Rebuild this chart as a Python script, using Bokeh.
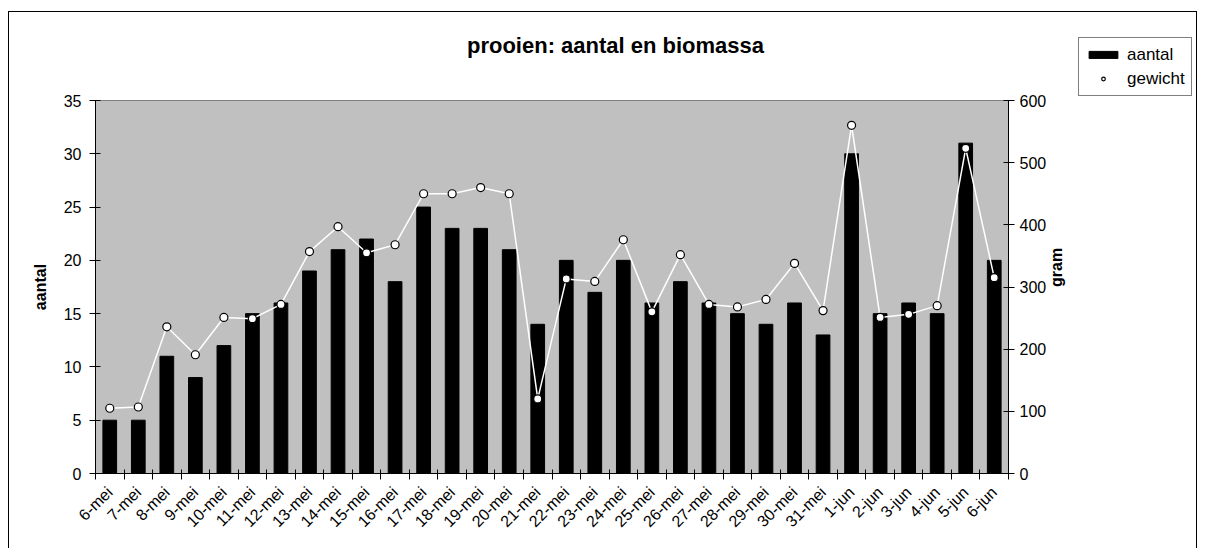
import math
from bokeh.plotting import figure
from bokeh.layouts import row, column
from bokeh.models import Range1d, LinearAxis, FixedTicker, Legend, LegendItem, Label
from bokeh.embed import file_html
from bokeh.resources import INLINE

dates = ["6-mei", "7-mei", "8-mei", "9-mei", "10-mei", "11-mei", "12-mei", "13-mei",
         "14-mei", "15-mei", "16-mei", "17-mei", "18-mei", "19-mei", "20-mei", "21-mei",
         "22-mei", "23-mei", "24-mei", "25-mei", "26-mei", "27-mei", "28-mei", "29-mei",
         "30-mei", "31-mei", "1-jun", "2-jun", "3-jun", "4-jun", "5-jun", "6-jun"]
aantal = [5, 5, 11, 9, 12, 15, 16, 19, 21, 22, 18, 25, 23, 23, 21, 14,
          20, 17, 20, 16, 18, 16, 15, 14, 16, 13, 30, 15, 16, 15, 31, 20]
gewicht = [105, 107, 236, 191, 251, 249, 272, 357, 397, 355, 368, 450, 450, 460, 450, 120,
           313, 309, 376, 260, 352, 272, 268, 280, 338, 262, 560, 251, 256, 270, 523, 315]
left_ticks = [0, 5, 10, 15, 20, 25, 30, 35]
right_ticks = [0, 100, 200, 300, 400, 500, 600]

FONT = "Liberation Sans"
idx = list(range(len(dates)))

MAIN_W = 1069
LEG_W = 118
TITLE_H = 76
MAIN_H = 460


def blank(w, h, xr, yr):
    f = figure(width=w, height=h, x_range=xr, y_range=yr,
               x_axis_type=None, y_axis_type=None,
               output_backend="svg", toolbar_location=None,
               min_border=0, min_border_left=0, min_border_right=0,
               min_border_top=0, min_border_bottom=0)
    f.grid.visible = False
    f.outline_line_color = None
    f.background_fill_color = "white"
    f.border_fill_color = "white"
    return f


# title strip (its frame is aligned with the chart's plot area)
tf = blank(MAIN_W, TITLE_H, Range1d(0, 1), Range1d(0, 1))
tf.add_layout(Label(x=520, y=43, x_units="screen", y_units="screen",
                    text="prooien: aantal en biomassa", text_align="center",
                    text_baseline="middle", text_font=FONT, text_font_size="22px",
                    text_font_style="bold", text_color="black"))

# main chart
p = figure(width=MAIN_W, height=MAIN_H,
           x_range=Range1d(-0.5, len(dates) - 0.5), y_range=Range1d(0, 35),
           output_backend="svg", toolbar_location=None,
           min_border_left=86, min_border_right=70, min_border_top=12, min_border_bottom=75)
p.extra_y_ranges = {"gram": Range1d(0, 600)}
p.background_fill_color = "#C0C0C0"
p.border_fill_color = "white"
p.outline_line_color = "#808080"
p.grid.visible = False

xa = p.xaxis[0]
xa.ticker = FixedTicker(ticks=idx, minor_ticks=[i - 0.5 for i in range(len(dates) + 1)])
xa.major_label_overrides = {i: d for i, d in enumerate(dates)}
xa.major_tick_in = 0
xa.major_tick_out = 0
xa.minor_tick_in = 4
xa.minor_tick_out = 6
xa.minor_tick_line_color = "black"
xa.axis_line_color = "black"
xa.major_label_orientation = math.pi / 4
xa.major_label_standoff = 10
xa.major_label_text_font = FONT
xa.major_label_text_font_size = "16px"
xa.major_label_text_color = "black"

ya = p.yaxis[0]
ya.ticker = FixedTicker(ticks=left_ticks)
ya.minor_tick_line_color = None
ya.major_tick_in = 5
ya.major_tick_out = 6
ya.major_tick_line_color = "black"
ya.axis_line_color = "black"
ya.major_label_standoff = 8
ya.major_label_text_font = FONT
ya.major_label_text_font_size = "16px"
ya.major_label_text_color = "black"
ya.axis_label = "aantal"
ya.axis_label_text_font = FONT
ya.axis_label_text_font_size = "16px"
ya.axis_label_text_font_style = "bold"
ya.axis_label_text_color = "black"
ya.axis_label_standoff = 12

ra = LinearAxis(y_range_name="gram", ticker=FixedTicker(ticks=right_ticks))
ra.minor_tick_line_color = None
ra.major_tick_in = 5
ra.major_tick_out = 6
ra.major_tick_line_color = "black"
ra.axis_line_color = "black"
ra.major_label_standoff = 5
ra.major_label_text_font = FONT
ra.major_label_text_font_size = "16px"
ra.major_label_text_color = "black"
ra.axis_label = "gram"
ra.axis_label_text_font = FONT
ra.axis_label_text_font_size = "16px"
ra.axis_label_text_font_style = "bold"
ra.axis_label_text_color = "black"
ra.axis_label_standoff = 7
try:
    ra.axis_label_orientation = math.pi / 2
except Exception:
    pass
p.add_layout(ra, "right")

p.vbar(x=idx, top=aantal, width=0.48, fill_color="black", line_color="black")
p.line(x=idx, y=gewicht, y_range_name="gram", line_color="white", line_width=1.5)
p.scatter(x=idx, y=gewicht, y_range_name="gram", size=8, fill_color="white",
          line_color="black", line_width=1.2)

# legend strip (its own renderers lie outside its visible ranges; only swatches show)
lf = blank(LEG_W, TITLE_H + MAIN_H, Range1d(-100, -99), Range1d(-100, -99))
lbar = lf.vbar(x=idx, top=aantal, width=0.5, fill_color="black", line_color="black")
lpts = lf.scatter(x=idx, y=gewicht, size=6, fill_color="white", line_color="black",
                  line_width=1.2)
legend = Legend(items=[LegendItem(label="aantal", renderers=[lbar]),
                       LegendItem(label="gewicht", renderers=[lpts])],
                location=(0, 452), orientation="vertical",
                glyph_width=36, glyph_height=9, label_height=21, label_standoff=6,
                spacing=3, padding=6, margin=0,
                label_text_font=FONT, label_text_font_size="17px", label_text_color="black",
                border_line_color="black", border_line_width=1,
                background_fill_color="white", background_fill_alpha=1.0)
lf.add_layout(legend)

layout = row(column(tf, p, spacing=0), lf, spacing=0,
             styles={"border-left": "1px solid black", "border-top": "1px solid black",
                     "border-right": "1px solid black", "margin-left": "8px",
                     "margin-top": "11px"})

open("out.html", "w").write(file_html(layout, INLINE))
